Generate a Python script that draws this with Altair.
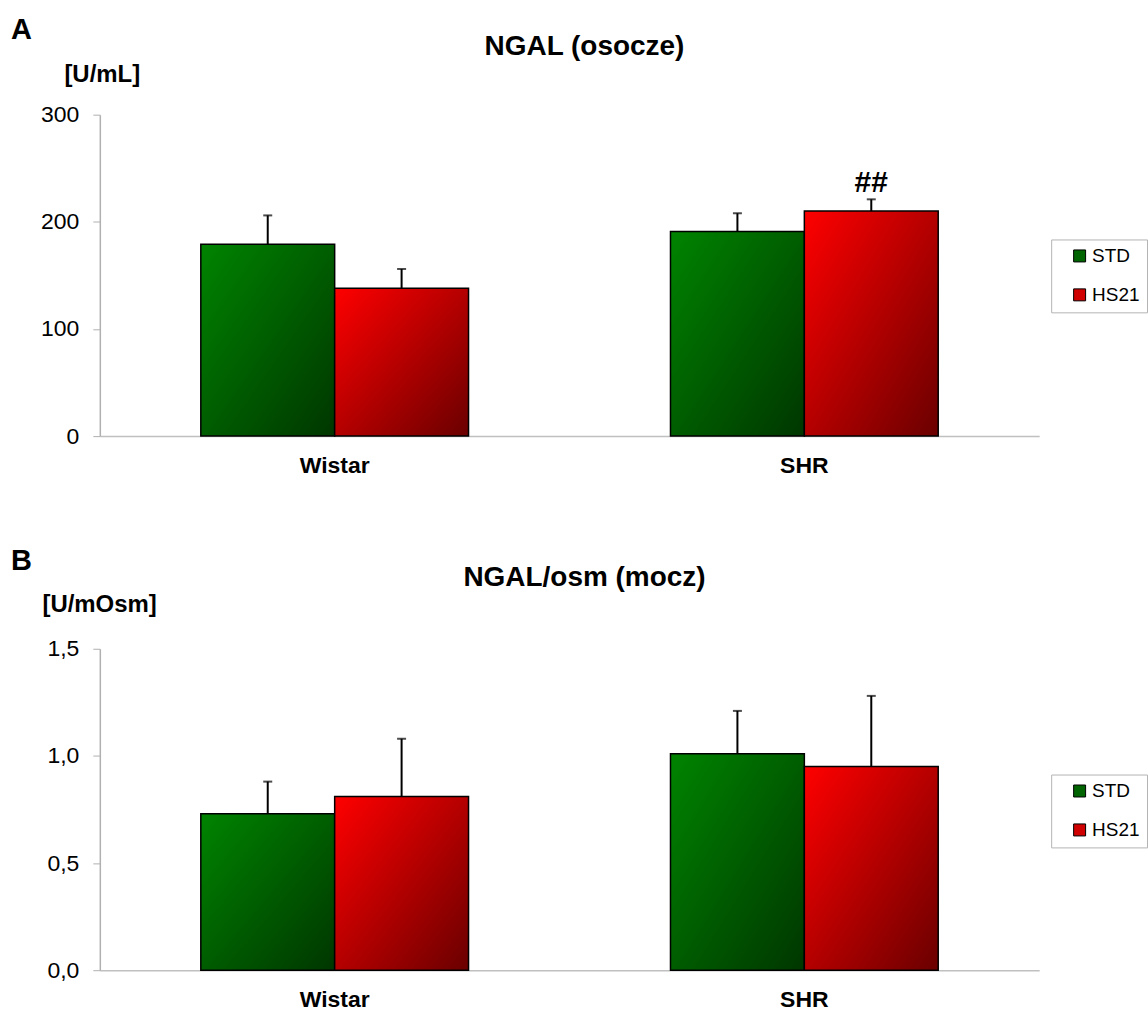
import altair as alt
import pandas as pd

FONT = "Liberation Sans"

groups = ["Wistar", "SHR"]
series = ["STD", "HS21"]

# Panel A: NGAL (osocze) [U/mL]
a_std = [179, 191]
a_hs21 = [138, 210]
a_std_err = [27, 17]
a_hs21_err = [18, 11]
a_hs21_marks = ["", "##"]
a_ticks = [0, 100, 200, 300]

# Panel B: NGAL/osm (mocz) [U/mOsm]
b_std = [0.73, 1.01]
b_hs21 = [0.81, 0.95]
b_std_err = [0.15, 0.20]
b_hs21_err = [0.27, 0.33]
b_hs21_marks = ["", ""]
b_ticks = [0, 0.5, 1.0, 1.5]


def make_df(std, hs, std_err, hs_err, hs_marks):
    rows = []
    for i, g in enumerate(groups):
        rows.append({"group": g, "series": "STD", "value": std[i], "err": std_err[i], "mark": ""})
        rows.append({"group": g, "series": "HS21", "value": hs[i], "err": hs_err[i], "mark": hs_marks[i]})
    df = pd.DataFrame(rows)
    df["top"] = df["value"] + df["err"]
    return df


green = alt.LinearGradient(
    gradient="linear",
    stops=[alt.GradientStop(color="#008400", offset=0), alt.GradientStop(color="#003600", offset=1)],
    x1=0, y1=0, x2=1, y2=1,
)
red = alt.LinearGradient(
    gradient="linear",
    stops=[alt.GradientStop(color="#ff0000", offset=0), alt.GradientStop(color="#6a0000", offset=1)],
    x1=0, y1=0, x2=1, y2=1,
)


def panel(df, letter, title, unit, ymax, ticks, label_expr, letter_pos, unit_pos, legend_pos, title_offset):
    base = alt.Chart(df)
    xenc = alt.X(
        "group:N", sort=groups,
        scale=alt.Scale(paddingInner=0.43, paddingOuter=0.215),
        axis=alt.Axis(title=None, labelAngle=0, labelFont=FONT, labelFontSize=23,
                      labelFontWeight="bold", labelColor="black", labelPadding=18,
                      ticks=False, domainColor="#c0c0c0", domainWidth=1.5),
    )
    xoff = alt.XOffset("series:N", sort=series,
                       scale=alt.Scale(domain=series, paddingInner=0, paddingOuter=0))
    yscale = alt.Scale(domain=[0, ymax], nice=False, zero=True)
    yaxis = alt.Axis(
        values=ticks, labelExpr=label_expr, grid=False,
        labelFont=FONT, labelFontSize=23, labelColor="black", labelPadding=14,
        tickSize=7, tickColor="#b0b0b0", domainColor="#b0b0b0", domainWidth=1.5,
        title=unit, titleAngle=0, titleAlign="left", titleBaseline="middle",
        titleX=unit_pos[0], titleY=unit_pos[1], titleFont=FONT, titleFontSize=24,
        titleFontWeight="bold", titleColor="black",
    )

    layers = []
    for s, grad in [("STD", green), ("HS21", red)]:
        layers.append(
            base.transform_filter(alt.datum.series == s)
            .mark_bar(fill=grad, stroke="black", strokeWidth=1.5)
            .encode(x=xenc, xOffset=xoff,
                    y=alt.Y("value:Q", scale=yscale, axis=yaxis))
        )
    legend_layer = base.mark_bar().encode(
        x=xenc, xOffset=xoff,
        y=alt.Y("value:Q", scale=yscale, axis=yaxis), y2="value:Q",
        color=alt.Color(
            "series:N", sort=series,
            scale=alt.Scale(domain=series, range=["#006400", "#d00000"]),
            legend=alt.Legend(
                title=None, orient="none", legendX=legend_pos[0], legendY=legend_pos[1],
                direction="vertical", symbolType="square", symbolSize=144,
                symbolStrokeColor="black", symbolStrokeWidth=1, symbolOffset=12,
                symbolOpacity=1, labelFont=FONT, labelFontSize=19, labelColor="black",
                labelOffset=3, padding=7, rowPadding=19, strokeColor="#b4b4b4",
                fillColor="white", cornerRadius=0,
            ),
        ),
    )
    rules = base.mark_rule(color="black", strokeWidth=2).encode(
        x=xenc, xOffset=xoff, y=alt.Y("value:Q", scale=yscale, axis=yaxis), y2="top:Q"
    )
    caps = base.mark_tick(color="black", thickness=2, size=9).encode(
        x=xenc, xOffset=xoff, y=alt.Y("top:Q", scale=yscale, axis=yaxis)
    )
    ann = (
        base.transform_filter(alt.datum.mark != "")
        .mark_text(font=FONT, fontSize=30, fontWeight="bold", baseline="bottom", dy=-1, color="black")
        .encode(x=xenc, xOffset=xoff, y=alt.Y("top:Q", scale=yscale, axis=yaxis), text="mark:N")
    )
    letter_layer = (
        alt.Chart(pd.DataFrame({"t": [letter]}))
        .mark_text(align="left", baseline="alphabetic", font=FONT, fontSize=29,
                   fontWeight="bold", color="black")
        .encode(x=alt.value(letter_pos[0]), y=alt.value(letter_pos[1]), text="t:N")
    )
    return alt.layer(legend_layer, *layers, rules, caps, ann, letter_layer).properties(
        width=941, height=322,
        title=alt.TitleParams(text=title, font=FONT, fontSize=28, fontWeight="bold",
                              color="black", anchor="middle", dx=15, offset=title_offset),
    )


df_a = make_df(a_std, a_hs21, a_std_err, a_hs21_err, a_hs21_marks)
df_b = make_df(b_std, b_hs21, b_std_err, b_hs21_err, b_hs21_marks)

pa = panel(df_a, "A", "NGAL (osocze)", "[U/mL]", 300, a_ticks, "format(datum.value, 'd')",
           (-89, -76), (-36, -40), (953, 125), -45)
pb = panel(df_b, "B", "NGAL/osm (mocz)", "[U/mOsm]", 1.5, b_ticks,
           "replace(format(datum.value, '.1f'), '.', ',')",
           (-89, -79), (-58, -44), (953, 126), -45)

chart = (
    alt.concat(pa, pb, columns=1, spacing=70, align="none")
    .resolve_scale(color="independent")
    .resolve_legend(color="independent")
    .properties(padding={"left": 11, "top": 15, "right": 0, "bottom": 0},
                background="white")
    .configure_view(stroke=None)
)

chart.save("out.html", embed_options={"renderer": "svg", "actions": False})
